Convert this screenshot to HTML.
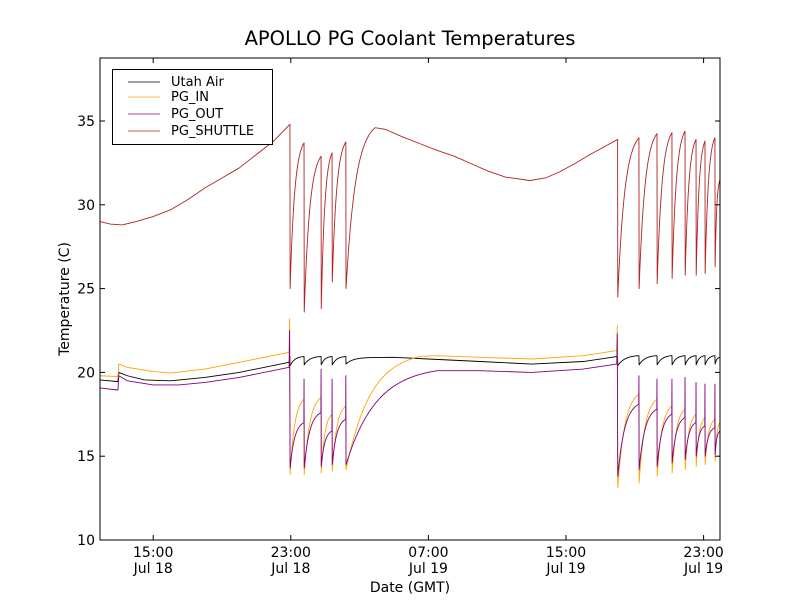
<!DOCTYPE html>
<html><head><meta charset="utf-8"><style>
body{margin:0;background:#fff;}
svg{display:block;font-family:"DejaVu Sans","Liberation Sans",sans-serif;}
</style></head><body>
<svg id="chart" width="800" height="600" viewBox="0 0 800 600">
<rect width="800" height="600" fill="#fff"/>
<text x="410" y="45" text-anchor="middle" font-size="19.5">APOLLO PG Coolant Temperatures</text>
<g id="series"></g>
<g id="axes"></g>
<g>
<rect x="112.5" y="69.5" width="160" height="75" fill="#fff" stroke="#000" stroke-width="1"/>
<line x1="128" y1="82" x2="160" y2="82" stroke="#000" stroke-width="0.8"/>
<text x="171" y="86" font-size="13">Utah Air</text>
<line x1="128" y1="97" x2="160" y2="97" stroke="#ffa500" stroke-width="0.8"/>
<text x="171" y="101" font-size="13">PG_IN</text>
<line x1="128" y1="114" x2="160" y2="114" stroke="#800080" stroke-width="0.8"/>
<text x="171" y="118" font-size="13">PG_OUT</text>
<line x1="128" y1="131" x2="160" y2="131" stroke="#b22222" stroke-width="0.8"/>
<text x="171" y="135" font-size="13">PG_SHUTTLE</text>
</g>
</svg>
<script>
// times: hours since 00:00 Jul 18 (GMT)
const yTicks=[10,15,20,25,30,35];
const xTickHours=[15,23,31,39,47];
const xTickTimes=["15:00","23:00","07:00","15:00","23:00"];
const xTickDates=["Jul 18","Jul 18","Jul 19","Jul 19","Jul 19"];
const shuttleT=[11.91,12.5,13.2,14,15,16,17,18,19,20,21,22,22.95,22.96,23.77,23.78,24.76,24.77,25.4,25.41,26.2,26.21,27.9,28.5,29.5,30.5,31.5,32.5,33.5,34.5,35.5,36.9,37.8,38.6,39.5,40.4,41.2,42.0,42.01,43.24,43.25,44.29,44.3,45.16,45.17,45.92,45.93,46.56,46.57,47.08,47.09,47.66,47.67,47.95];
const shuttleV=[29.0,28.85,28.8,29.0,29.3,29.7,30.3,31.0,31.6,32.2,33.0,33.8,34.8,25.0,33.7,23.6,32.9,23.8,33.1,25.4,33.75,25.0,34.6,34.5,34.05,33.65,33.25,32.9,32.45,32.0,31.65,31.45,31.6,31.95,32.45,33.0,33.45,33.9,24.5,34.0,25.0,34.25,25.3,34.3,25.6,34.4,25.8,33.9,25.8,33.8,25.9,34.0,26.3,31.5];
const utahT=[11.91,12.95,13.0,13.5,14.5,16,18,20,22.9,22.95,22.96,23.77,23.78,24.76,24.77,25.4,25.41,26.2,26.21,27.5,29,31,34,37,40,42.0,42.01,43.24,43.25,44.29,44.3,45.16,45.17,45.92,45.93,46.56,46.57,47.08,47.09,47.66,47.67,47.95];
const utahV=[19.55,19.45,20.0,19.8,19.55,19.5,19.7,20.0,20.6,20.95,20.4,20.95,20.45,20.95,20.45,20.95,20.45,20.95,20.5,20.88,20.9,20.8,20.65,20.5,20.65,20.95,20.4,21.0,20.45,21.0,20.45,21.0,20.45,21.0,20.45,21.0,20.45,21.0,20.45,21.0,20.5,20.9];
const inT=[11.91,12.95,13.0,13.5,15,16,18,20,22.9,22.93,22.96,23.77,23.78,24.76,24.77,25.4,25.41,26.2,26.21,30.5,31.5,34,37,40,41.95,41.98,42.01,43.24,43.25,44.29,44.3,45.16,45.17,45.92,45.93,46.56,46.57,47.08,47.09,47.66,47.67,47.95];
const inV=[19.8,19.75,20.5,20.3,20.05,19.96,20.2,20.6,21.2,23.2,13.9,18.4,13.9,18.5,14.0,17.5,14.1,18.0,14.2,20.95,21.0,20.9,20.8,21.0,21.3,22.8,13.1,18.7,13.4,18.4,13.8,18.0,14.0,17.8,14.2,17.5,14.4,17.3,14.5,17.2,14.7,17.0];
const outT=[11.91,12.95,13.0,13.5,15,16.5,18,20,22.9,22.93,22.96,23.76,23.77,23.78,24.75,24.76,24.77,25.39,25.4,25.41,26.19,26.2,26.21,31.5,34,37,40,41.95,41.98,42.01,43.23,43.24,43.25,44.28,44.29,44.3,45.15,45.16,45.17,45.91,45.92,45.93,46.55,46.56,46.57,47.07,47.08,47.09,47.65,47.66,47.67,47.95];
const outV=[19.07,18.95,19.8,19.5,19.25,19.25,19.4,19.7,20.3,22.5,14.3,17.0,19.6,14.3,17.6,20.2,14.4,16.5,19.6,14.5,17.2,19.8,14.5,20.1,20.1,20.0,20.2,20.5,22.3,13.8,18.1,19.8,14.2,17.8,19.6,14.4,17.5,19.6,14.6,17.3,19.7,14.8,17.0,19.4,15.0,16.8,19.3,15.0,16.7,19.3,15.1,16.5];

const L=100,R=720,T=58,B=540;
function xS(h){return 153.2+(h-15)*17.2;}
function yS(v){return B-(v-10)*16.76;}
const NS="http://www.w3.org/2000/svg";
function mk(tag,attrs,parent){const e=document.createElementNS(NS,tag);for(const k in attrs)e.setAttribute(k,attrs[k]);parent.appendChild(e);return e;}

const defs=mk('defs',{},document.getElementById('chart'));
const cp=mk('clipPath',{id:'clip'},defs);
mk('rect',{x:L,y:T,width:R-L,height:B-T},cp);

function drawSeries(ts,vs,color,name){
  let d='M'+xS(ts[0]).toFixed(2)+','+yS(vs[0]).toFixed(2);
  for(let i=1;i<ts.length;i++){
    const t0=ts[i-1],v0=vs[i-1],t1=ts[i],v1=vs[i];
    const prevDrop=i>=2&&(ts[i-1]-ts[i-2])<0.05&&vs[i-1]<vs[i-2];
    if(prevDrop&&v1>v0&&(t1-t0)>0.1){
      const k=3,n=24,den=1-Math.exp(-k);
      for(let j=1;j<=n;j++){
        const s=j/n,f=(1-Math.exp(-k*s))/den;
        d+=' L'+xS(t0+(t1-t0)*s).toFixed(2)+','+yS(v0+(v1-v0)*f).toFixed(2);
      }
    }else d+=' L'+xS(t1).toFixed(2)+','+yS(v1).toFixed(2);
  }
  const p=mk('path',{d:d,fill:'none',stroke:color,'stroke-width':0.9,'stroke-linejoin':'round','clip-path':'url(#clip)'},document.getElementById('series'));
  
  
}
drawSeries(utahT,utahV,'#000','utah-air-line');
drawSeries(inT,inV,'#ffa500','pg-in-line');
drawSeries(outT,outV,'#800080','pg-out-line');
drawSeries(shuttleT,shuttleV,'#b22222','pg-shuttle-line');

const ax=document.getElementById('axes');
const frame=mk('rect',{x:L,y:T,width:R-L,height:B-T,fill:'none',stroke:'#000','stroke-width':1},ax);


yTicks.forEach(v=>{
  const y=yS(v);
  mk('line',{x1:L,y1:y,x2:L+5,y2:y,stroke:'#000'},ax);
  mk('line',{x1:R,y1:y,x2:R-5,y2:y,stroke:'#000'},ax);
  const t=mk('text',{x:L-5,y:y+5,'text-anchor':'end','font-size':14},ax);
  t.textContent=v;
  
  
});
xTickHours.forEach((h,i)=>{
  const x=xS(h);
  mk('line',{x1:x,y1:B,x2:x,y2:B-5,stroke:'#000'},ax);
  mk('line',{x1:x,y1:T,x2:x,y2:T+5,stroke:'#000'},ax);
  const t=mk('text',{x:x,y:557,'text-anchor':'middle','font-size':14},ax);
  t.textContent=xTickTimes[i];
  
  
  const t2=mk('text',{x:x,y:573,'text-anchor':'middle','font-size':14},ax);
  t2.textContent=xTickDates[i];
  
  
});
const xt=mk('text',{x:410,y:592,'text-anchor':'middle','font-size':14},ax);
xt.textContent='Date (GMT)';


const yt=mk('text',{x:0,y:0,'text-anchor':'middle','font-size':14,transform:'translate(69,299) rotate(-90)'},ax);
yt.textContent='Temperature (C)';


</script>
</body></html>
